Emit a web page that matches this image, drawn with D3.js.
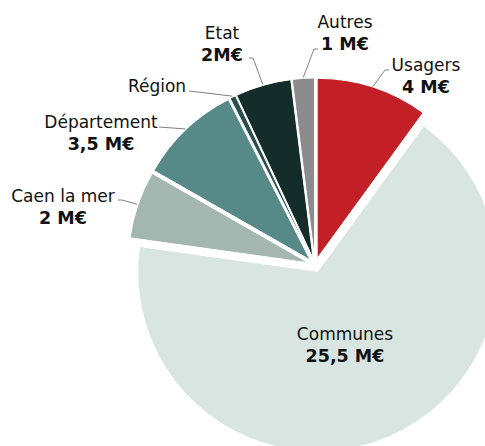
<!DOCTYPE html>
<html>
<head>
<meta charset="utf-8">
<script src="https://cdn.jsdelivr.net/npm/d3@7"></script>
<style>
  body { margin: 0; background: #fff; }
  svg { display: block; }
  text { font-family: "DejaVu Sans", Verdana, sans-serif; fill: #111; }
</style>
</head>
<body>
<div id="chart"></div>
<script>
// sources of funding, in M€ (slice sizes, labels as printed)
var names = ["Usagers", "Communes", "Caen la mer", "Département", "Région", "Etat", "Autres"];
var values = [3.8, 25.5, 2.3, 3.5, 0.2, 1.9, 0.75];
var valueLabels = ["4 M€", "25,5 M€", "2 M€", "3,5 M€", "", "2M€", "1 M€"];
var colors = ["#c21f26", "#d9e5e1", "#a3b7b0", "#578988", "#2b4f4c", "#152d2a", "#8b8b8b"];

// label placement (layout only): text centre x, first baseline y, elbow end of the leader line
var labelPos = [
  { x: 426, y: 71, ex: 389, ey: 70 },
  { x: 345, y: 340, ex: null },
  { x: 63, y: 202, ex: 118, ey: 200 },
  { x: 101, y: 128, ex: 159, ey: 127 },
  { x: 157, y: 92, ex: 189, ey: 91 },
  { x: 222, y: 39, ex: 249, ey: 58 },
  { x: 345, y: 28, ex: 318, ey: 49 }
];

var width = 485, height = 446;
var cx = 315, cy = 265, radius = 180, explode = 7;

var svg = d3.select("#chart").append("svg")
  .attr("width", width)
  .attr("height", height);

var pie = d3.pie().sort(null).value(function (d) { return d; })
  .startAngle(0).endAngle(2 * Math.PI);
var arcs = pie(values);

var arc = d3.arc().innerRadius(0).outerRadius(radius);

function offset(d) {
  var a = (d.startAngle + d.endAngle) / 2;
  return [Math.sin(a) * explode, -Math.cos(a) * explode];
}

var g = svg.append("g").attr("transform", "translate(" + cx + "," + cy + ")");

g.selectAll("path.slice")
  .data(arcs)
  .enter().append("path")
  .attr("class", "slice")
  .attr("d", arc)
  .attr("transform", function (d) { var o = offset(d); return "translate(" + o[0] + "," + o[1] + ")"; })
  .attr("fill", function (d, i) { return colors[i]; })
  .attr("stroke", "#fff")
  .attr("stroke-width", 1);

// leader lines: from the label elbow to the middle of the slice's outer edge
arcs.forEach(function (d, i) {
  var p = labelPos[i];
  if (p.ex === null) return;
  var a = (d.startAngle + d.endAngle) / 2;
  var o = offset(d);
  var ax = cx + o[0] + Math.sin(a) * (radius + 1);
  var ay = cy + o[1] - Math.cos(a) * (radius + 1);
  var pts = [[p.ex, p.ey], [p.ex + (ax > p.ex ? 4 : -4), p.ey], [ax, ay]];
  if (i === 4 || i === 3) pts = [[p.ex, p.ey], [ax, ay]];
  svg.append("path")
    .attr("d", d3.line()(pts))
    .attr("fill", "none")
    .attr("stroke", "#808080")
    .attr("stroke-width", 1);
});

// labels
names.forEach(function (n, i) {
  var p = labelPos[i];
  svg.append("text")
    .attr("x", p.x).attr("y", p.y)
    .attr("text-anchor", "middle")
    .style("font-size", "17px")
    .text(n);
  if (valueLabels[i]) {
    svg.append("text")
      .attr("x", p.x).attr("y", p.y + 22)
      .attr("text-anchor", "middle")
      .style("font-size", "17.5px")
      .style("font-weight", "bold")
      .text(valueLabels[i]);
  }
});
</script>
</body>
</html>
